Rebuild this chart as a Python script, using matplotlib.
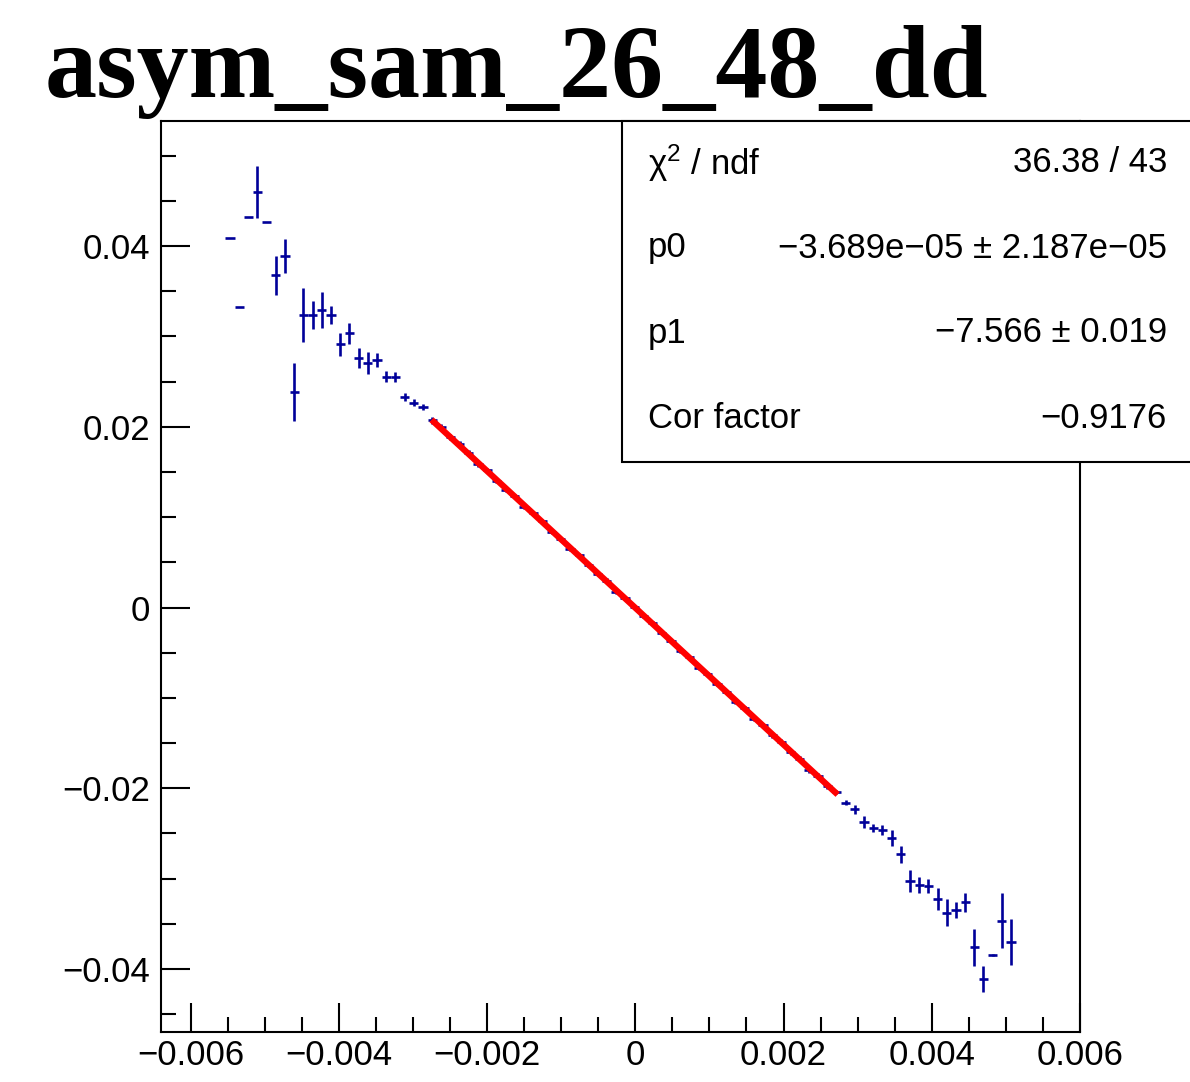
import matplotlib
matplotlib.use("Agg")
import numpy as np
import matplotlib.pyplot as plt
from matplotlib.patches import Rectangle
from matplotlib.ticker import MultipleLocator, FuncFormatter

plt.rcParams['font.family'] = ['Liberation Sans', 'DejaVu Sans']
plt.rcParams['mathtext.fontset'] = 'custom'
plt.rcParams['mathtext.rm'] = 'Liberation Sans'
plt.rcParams['mathtext.it'] = 'Liberation Sans:italic'

TITLE = "asym_sam_26_48_dd"

# profile bin centres (bins 7..92 of 100 over [-0.0064, 0.006])
X = [-0.005470, -0.005346, -0.005222, -0.005098, -0.004974, -0.004850, -0.004726,
     -0.004602, -0.004478, -0.004354, -0.004230, -0.004106, -0.003982, -0.003858,
     -0.003734, -0.003610, -0.003486, -0.003362, -0.003238, -0.003114, -0.002990,
     -0.002866, -0.002742, -0.002618, -0.002494, -0.002370, -0.002246, -0.002122,
     -0.001998, -0.001874, -0.001750, -0.001626, -0.001502, -0.001378, -0.001254,
     -0.001130, -0.001006, -0.000882, -0.000758, -0.000634, -0.000510, -0.000386,
     -0.000262, -0.000138, -0.000014, 0.000110, 0.000234, 0.000358, 0.000482,
     0.000606, 0.000730, 0.000854, 0.000978, 0.001102, 0.001226, 0.001350,
     0.001474, 0.001598, 0.001722, 0.001846, 0.001970, 0.002094, 0.002218,
     0.002342, 0.002466, 0.002590, 0.002714, 0.002838, 0.002962, 0.003086,
     0.003210, 0.003334, 0.003458, 0.003582, 0.003706, 0.003830, 0.003954,
     0.004078, 0.004202, 0.004326, 0.004450, 0.004574, 0.004698, 0.004822,
     0.004946, 0.005070]

Y = [0.04090, 0.03324, 0.04323, 0.04593, 0.04268, 0.03678, 0.03888,
     0.02380, 0.03236, 0.03236, 0.03291, 0.03236, 0.02912, 0.03033,
     0.02763, 0.02708, 0.02738, 0.02553, 0.02553, 0.02325, 0.02265,
     0.02215, 0.02069, 0.01999, 0.01888, 0.01807, 0.01707, 0.01586,
     0.01516, 0.01405, 0.01304, 0.01234, 0.01113, 0.01043, 0.00952,
     0.00832, 0.00761, 0.00650, 0.00580, 0.00469, 0.00368, 0.00298,
     0.00177, 0.00107, 0.00006, -0.00094, -0.00175, -0.00286, -0.00366,
     -0.00477, -0.00547, -0.00668, -0.00739, -0.00849, -0.00930, -0.01040,
     -0.01111, -0.01231, -0.01302, -0.01413, -0.01483, -0.01604, -0.01674,
     -0.01795, -0.01866, -0.01976, -0.02038, -0.02159, -0.02232, -0.02369,
     -0.02436, -0.02461, -0.02553, -0.02730, -0.03022, -0.03070, -0.03081,
     -0.03228, -0.03376, -0.03346, -0.03261, -0.03759, -0.04113, -0.03841,
     -0.03465, -0.03700]

YERR = [0.0, 0.0, 0.0, 0.00286, 0.0, 0.00216, 0.00191,
        0.00320, 0.00304, 0.00155, 0.00200, 0.00096, 0.00125, 0.00116,
        0.00110, 0.00120, 0.00077, 0.00060, 0.00055, 0.00044, 0.00040,
        0.00033, 0.00035, 0.00033, 0.00032, 0.00030, 0.00030, 0.00028,
        0.00028, 0.00027, 0.00026, 0.00026, 0.00025, 0.00025, 0.00024,
        0.00024, 0.00024, 0.00023, 0.00023, 0.00023, 0.00023, 0.00023,
        0.00023, 0.00023, 0.00023, 0.00023, 0.00023, 0.00023, 0.00023,
        0.00023, 0.00023, 0.00024, 0.00024, 0.00024, 0.00025, 0.00025,
        0.00026, 0.00026, 0.00027, 0.00028, 0.00028, 0.00030, 0.00030,
        0.00032, 0.00033, 0.00033, 0.00020, 0.00030, 0.00050, 0.00068,
        0.00042, 0.00060, 0.00087, 0.00092, 0.00120, 0.00092, 0.00077,
        0.00120, 0.00150, 0.00092, 0.00105, 0.00207, 0.00142, 0.00010,
        0.00304, 0.00252]

BIN_HALF_WIDTH = 0.000062

# fit result
P0 = -3.689e-05
P1 = -7.566
FIT_RANGE = (-0.00275, 0.00273)
STATS = [
    ("\u03c7$^{2}$ / ndf", "36.38 / 43"),
    ("p0", "\u22123.689e\u221205 \u00b1 2.187e\u221205"),
    ("p1", "\u22127.566 \u00b1 0.019"),
    ("Cor factor", "\u22120.9176"),
]

W, H = 1190, 1082
fig = plt.figure(figsize=(W / 100, H / 100), dpi=100)
fig.patch.set_facecolor("white")

ax = fig.add_axes([161 / W, 1 - 1032 / H, 919 / W, 911 / H])

ax.errorbar(X, Y, xerr=BIN_HALF_WIDTH, yerr=YERR, fmt='none',
            ecolor='#000099', elinewidth=1.9, capsize=0, zorder=2)

fx = np.array(FIT_RANGE)
ax.plot(fx, P0 + P1 * fx, color='#ff0000', lw=4.5, zorder=3,
        solid_capstyle='butt')

ax.set_xlim(-0.0064, 0.0060001)
ax.set_ylim(-0.04696, 0.05382)

ax.xaxis.set_major_locator(MultipleLocator(0.002))
ax.xaxis.set_minor_locator(MultipleLocator(0.0005))
ax.yaxis.set_major_locator(MultipleLocator(0.02))
ax.yaxis.set_minor_locator(MultipleLocator(0.005))


def root_fmt(v, pos):
    if abs(v) < 1e-12:
        return "0"
    return f"{v:.4g}".replace("-", "\u2212")


ax.xaxis.set_major_formatter(FuncFormatter(root_fmt))
ax.yaxis.set_major_formatter(FuncFormatter(root_fmt))

ax.tick_params(which='both', direction='in', top=False, right=False,
               width=1.5, labelsize=25, color='black')
ax.tick_params(which='major', length=21)
ax.tick_params(which='minor', length=10.5)
ax.tick_params(axis='y', pad=8)
ax.tick_params(axis='x', pad=5)
for sp in ax.spines.values():
    sp.set_linewidth(1.5)

# title
fig.text(45 / W, 1 - 97 / H, TITLE, fontsize=75, fontweight='bold',
         family=['Liberation Serif', 'DejaVu Serif'], ha='left', va='baseline')

# stats box
box = Rectangle((622 / W, 1 - 462 / H), (W + 20 - 622) / W, (462 - 121) / H,
                transform=fig.transFigure, facecolor='white', edgecolor='black',
                linewidth=1.5, zorder=5, clip_on=False)
fig.patches.append(box)
rows_y = [163, 248, 333, 418]
for (lab, val), ry in zip(STATS, rows_y):
    fig.text(648 / W, 1 - ry / H, lab, fontsize=25, ha='left', va='center', zorder=6)
    fig.text(1167 / W, 1 - ry / H, val, fontsize=25, ha='right', va='center', zorder=6)

fig.savefig("out.png", dpi=100, facecolor="white")
